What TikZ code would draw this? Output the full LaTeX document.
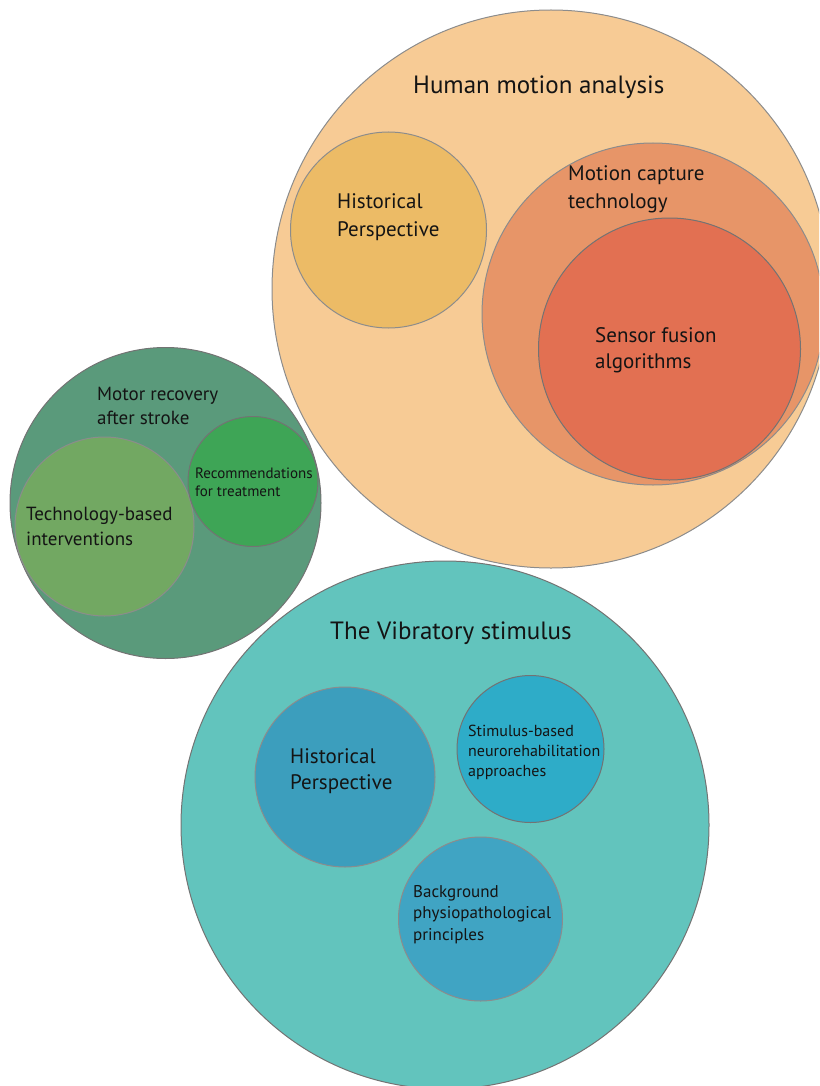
\documentclass[tikz,border=0pt]{standalone}
\usepackage{fontspec}
\setmainfont{PT Sans}
\begin{document}
\begin{tikzpicture}[x=1pt,y=-1pt,
  bubble/.style={circle,draw=black!45,line width=1pt,inner sep=0pt,minimum size=#1},
  lbl/.style={anchor=base west,inner sep=0pt,align=left,text=black!92},
  big/.style={font=\fontsize{25}{30}\selectfont},
  mid/.style={font=\fontsize{21}{28}\selectfont},
  small/.style={font=\fontsize{16}{20}\selectfont}]
\definecolor{hmaC}{HTML}{F7CB95}
\definecolor{hmaHist}{HTML}{ECBB66}
\definecolor{mocap}{HTML}{E79568}
\definecolor{fusion}{HTML}{E27052}
\definecolor{motor}{HTML}{5A9A7B}
\definecolor{techC}{HTML}{72A862}
\definecolor{recC}{HTML}{3EA556}
\definecolor{vibC}{HTML}{62C4BD}
\definecolor{vibHist}{HTML}{3C9EBD}
\definecolor{stimC}{HTML}{2EACC8}
\definecolor{bgC}{HTML}{40A4C3}
\useasboundingbox (0,0) rectangle (819,1086);
\clip (0,0) rectangle (819,1086);

% Human motion analysis
% (multi-line labels are placed by the baseline of their last line)
\node[bubble=558pt,fill=hmaC] (hma) at (551,289) {};
\node[bubble=196pt,fill=hmaHist] (hmahist) at (388.5,230) {};
\node[bubble=342pt,fill=mocap] (mocapc) at (653,314) {};
\node[bubble=262pt,fill=fusion,draw=black!55] (fusionc) at (669.5,349) {};
\node[lbl,big] (hmat) at (413,94) {Human motion analysis};
\node[lbl,mid] (hmahistt) at (337,236) {Historical\\Perspective};
\node[lbl,mid] (mocapt) at (568,208) {Motion capture\\technology};
\node[lbl,font=\fontsize{21}{26}\selectfont] (fusiont) at (595,368) {Sensor fusion\\algorithms};

% Motor recovery after stroke
\node[bubble=311pt,fill=motor,draw=black!55] (motorc) at (165.5,503) {};
\node[bubble=179pt,fill=techC] (techc) at (104.5,526.5) {};
\node[bubble=130pt,fill=recC,draw=black!55] (recc) at (253,481.5) {};
\node[lbl,font=\fontsize{19}{24}\selectfont] (motort) at (97,424) {Motor recovery\\after stroke};
\node[lbl,font=\fontsize{19}{25}\selectfont] (techt) at (26,545) {Technology-based\\interventions};
\node[lbl,font=\fontsize{15}{18}\selectfont] (rect) at (195,496) {Recommendations\\for treatment};

% The Vibratory stimulus
\node[bubble=528pt,fill=vibC,draw=black!55] (vibc) at (445,825) {};
\node[bubble=180pt,fill=vibHist] (vibhist) at (345,777) {};
\node[bubble=147pt,fill=stimC,draw=black!55] (stimc) at (530.5,749) {};
\node[bubble=164pt,fill=bgC] (bgc) at (480.5,919) {};
\node[lbl,big] (vibt) at (330,639) {The Vibratory stimulus};
\node[lbl,font=\fontsize{21}{26}\selectfont] (vibhistt) at (290,789) {Historical\\Perspective};
\node[lbl,small] (stimt) at (468,776) {Stimulus-based\\neurorehabilitation\\approaches};
\node[lbl,font=\fontsize{17}{21.5}\selectfont] (bgt) at (413,940) {Background\\physiopathological\\principles};
\end{tikzpicture}
\end{document}
